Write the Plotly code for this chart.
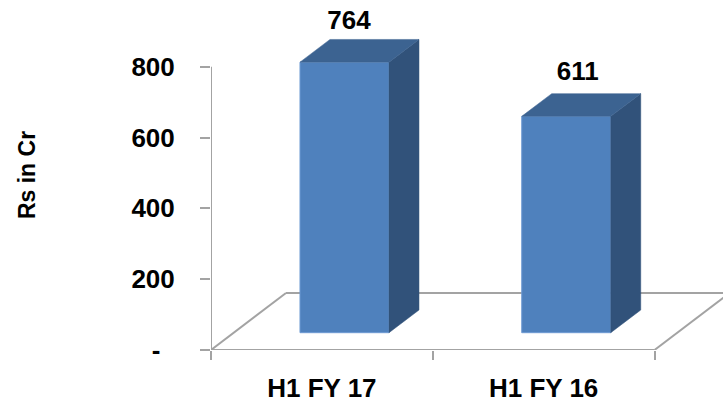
import plotly.graph_objects as go

categories = ["H1 FY 17", "H1 FY 16"]
values = [764, 611]
y_ticks = [0, 200, 400, 600, 800]
y_labels = ["-\u00a0\u00a0", "200", "400", "600", "800"]
label_nudge = [0.02, 0.052]
label_lift_px = [17, 20]

W, H = 723, 405
LEFT, BOTTOM = 211, 55
CAT_PX = 221.75
UNIT_PX = 283.3 / 800
X_MAX = (W - LEFT) / CAT_PX
Y_MAX = (H - BOTTOM) / UNIT_PX

FONT = "Liberation Sans, Arial, sans-serif"
FS = 26
GREY = "#A3A3A3"
FRONT, SIDE, TOP = "#4F81BD", "#31527A", "#3C6391"

floor_dx, floor_dy = 75 / CAT_PX, 57 / UNIT_PX
bar_dx, bar_dy = 30 / CAT_PX, 22.7 / UNIT_PX
bar_w = 89 / CAT_PX
bar_base = 17.3 / UNIT_PX
bar_shift = 0.102

positions = [i + 0.5 for i in range(len(categories))]
left_edges = [p + bar_shift - bar_w / 2 for p in positions]
tops = [bar_base + v for v in values]

fig = go.Figure()
fig.add_trace(go.Bar(
    x=[p + bar_shift for p in positions], y=values, base=bar_base, width=bar_w,
    marker=dict(color=FRONT, line=dict(color="#6E9BD3", width=1)),
    showlegend=False, hoverinfo="skip",
))
for x0, top in zip(left_edges, tops):
    x1 = x0 + bar_w
    fig.add_trace(go.Scatter(
        x=[x1, x1 + bar_dx, x1 + bar_dx, x1, x1],
        y=[bar_base, bar_base + bar_dy, top + bar_dy, top, bar_base],
        mode="lines", fill="toself", fillcolor=SIDE,
        line=dict(color=SIDE, width=0.5), showlegend=False, hoverinfo="skip",
    ))
    fig.add_trace(go.Scatter(
        x=[x0, x0 + bar_dx, x1 + bar_dx, x1, x0],
        y=[top, top + bar_dy, top + bar_dy, top, top],
        mode="lines", fill="toself", fillcolor=TOP,
        line=dict(color=TOP, width=0.5), showlegend=False, hoverinfo="skip",
    ))

fig.add_trace(go.Scatter(
    x=[p + bar_shift + n for p, n in zip(positions, label_nudge)],
    y=[t + bar_dy + lift / UNIT_PX for t, lift in zip(tops, label_lift_px)],
    text=[str(v) for v in values], mode="text", textposition="middle center",
    textfont=dict(family=FONT, size=FS, color="#000000", weight="bold"),
    showlegend=False, hoverinfo="skip",
))

n = len(categories)
floor_lines = [
    (0, 0, n, 0),
    (0, 0, 0, y_ticks[-1]),
    (0, 0, floor_dx, floor_dy),
    (n, 0, n + floor_dx, floor_dy),
    (floor_dx, floor_dy, n + floor_dx, floor_dy),
]
shapes = [dict(type="line", xref="x", yref="y", x0=a, y0=b, x1=c, y1=d, layer="below",
               line=dict(color=GREY, width=2)) for a, b, c, d in floor_lines]

fig.update_layout(
    width=W, height=H, margin=dict(l=LEFT, r=0, t=0, b=BOTTOM, autoexpand=False),
    paper_bgcolor="white", plot_bgcolor="white", showlegend=False, shapes=shapes,
    font=dict(family=FONT, size=FS, color="#000000", weight="bold"),
    xaxis=dict(
        range=[0, X_MAX], showgrid=False, zeroline=False, showline=False,
        tickmode="array", tickvals=positions, ticktext=categories, ticks="",
        ticklabelstandoff=20,
        tickfont=dict(family=FONT, size=FS, color="#000000", weight="bold"),
        minor=dict(tickmode="array", tickvals=list(range(n + 1)), ticks="outside",
                   ticklen=9, tickcolor=GREY, tickwidth=2, showgrid=False),
    ),
    yaxis=dict(
        range=[0, Y_MAX], showgrid=False, zeroline=False, showline=False,
        tickmode="array", tickvals=y_ticks, ticktext=y_labels, ticks="outside",
        ticklen=10, tickcolor=GREY, tickwidth=2, ticklabelstandoff=20,
        tickfont=dict(family=FONT, size=FS, color="#000000", weight="bold"),
        title=dict(text="Rs in Cr", standoff=89,
                   font=dict(family=FONT, size=23, color="#000000", weight="bold")),
    ),
)
fig.write_html("out.html", post_script="document.body.style.margin='0';",
               config=dict(displayModeBar=False))
